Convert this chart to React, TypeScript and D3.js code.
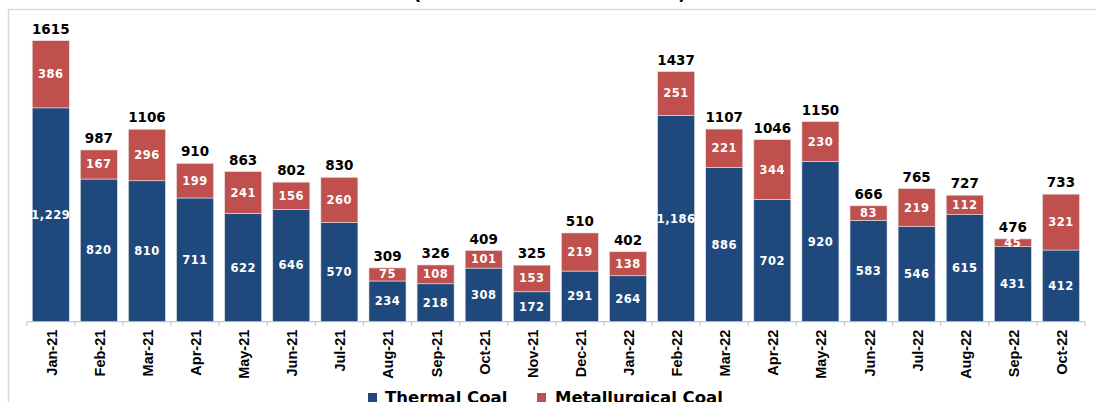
import React from "react";
import * as d3 from "d3";

const months = ["Jan-21","Feb-21","Mar-21","Apr-21","May-21","Jun-21","Jul-21","Aug-21","Sep-21","Oct-21","Nov-21","Dec-21","Jan-22","Feb-22","Mar-22","Apr-22","May-22","Jun-22","Jul-22","Aug-22","Sep-22","Oct-22"];
const thermal = [1229,820,810,711,622,646,570,234,218,308,172,291,264,1186,886,702,920,583,546,615,431,412];
const metallurgical = [386,167,296,199,241,156,260,75,108,101,153,219,138,251,221,344,230,83,219,112,45,321];
const seriesNames = ["Thermal Coal","Metallurgical Coal"];
const colors = ["#1F497D","#C0504D"];

const W = 1096, H = 402;
const baseY = 321.7;

export default function App() {
  const x = d3.scaleBand<string>().domain(months).range([26.7, 1085]).paddingInner(0.23).paddingOuter(0.115);
  const y = d3.scaleLinear().domain([0, 1800]).range([baseY, baseY - 1800 * 0.174]);
  const fmt = d3.format(",");
  const step = x.step();
  const labelFont = "'DejaVu Sans', Verdana, sans-serif";
  const narrow = "'Liberation Sans Narrow', 'Arial Narrow', 'Liberation Sans', sans-serif";

  return (
    <svg width={W} height={H} style={{ position: "fixed", left: 0, top: 0, background: "#fff" }}>
      {/* frame */}
      <line x1={8} x2={W} y1={9.5} y2={9.5} stroke="#d9d9d9" strokeWidth={1.5} />
      <line x1={8.5} x2={8.5} y1={9} y2={H} stroke="#d9d9d9" strokeWidth={1.5} />
      {/* cut-off title */}
      <text x={413} y={0} fontFamily={labelFont} fontWeight="bold" fontSize={18} fill="#000">(</text>
      <text x={678} y={0} fontFamily={labelFont} fontWeight="bold" fontSize={18} fill="#000">)</text>

      {/* axis */}
      <line x1={26.7} x2={1085} y1={baseY} y2={baseY} stroke="#c8c8c8" strokeWidth={1.2} />
      {d3.range(months.length + 1).map(i => (
        <line key={"t" + i} x1={26.7 + i * step} x2={26.7 + i * step} y1={baseY} y2={baseY + 4} stroke="#c8c8c8" strokeWidth={1.2} />
      ))}

      {months.map((m, i) => {
        const bx = x(m)!;
        const bw = x.bandwidth();
        const t = thermal[i];
        const mt = metallurgical[i];
        const total = t + mt;
        const cx = bx + bw / 2;
        return (
          <g key={m}>
            <rect x={bx} y={y(t)} width={bw} height={y(0) - y(t)} fill={colors[0]} stroke="#e4e4e4" strokeWidth={0.6} />
            <rect x={bx} y={y(total)} width={bw} height={y(t) - y(total)} fill={colors[1]} stroke="#e4e4e4" strokeWidth={0.6} />
            <text x={cx} y={(y(0) + y(t)) / 2} textAnchor="middle" dominantBaseline="central" fill="#fff" fontFamily={labelFont} fontWeight="bold" fontSize={11.5} letterSpacing={0.5}>{fmt(t)}</text>
            <text x={cx} y={(y(t) + y(total)) / 2} textAnchor="middle" dominantBaseline="central" fill="#fff" fontFamily={labelFont} fontWeight="bold" fontSize={11.5} letterSpacing={0.5}>{mt}</text>
            <text x={cx} y={y(total) - 7} textAnchor="middle" fill="#000" fontFamily={labelFont} fontWeight="bold" fontSize={13.5}>{total}</text>
            <text transform={`translate(${cx + 1},${baseY + 8}) rotate(-90)`} textAnchor="end" dominantBaseline="central" fill="#000" fontFamily={narrow} fontWeight="bold" fontSize={14.5}>{m}</text>
          </g>
        );
      })}

      {/* legend */}
      <rect x={368} y={393} width={9} height={9} fill={colors[0]} />
      <text x={385} y={403} fontFamily={labelFont} fontWeight="bold" fontSize={16.5} fill="#000">{seriesNames[0]}</text>
      <rect x={537} y={393} width={9} height={9} fill={colors[1]} />
      <text x={555} y={403} fontFamily={labelFont} fontWeight="bold" fontSize={16.5} fill="#000">{seriesNames[1]}</text>
    </svg>
  );
}
